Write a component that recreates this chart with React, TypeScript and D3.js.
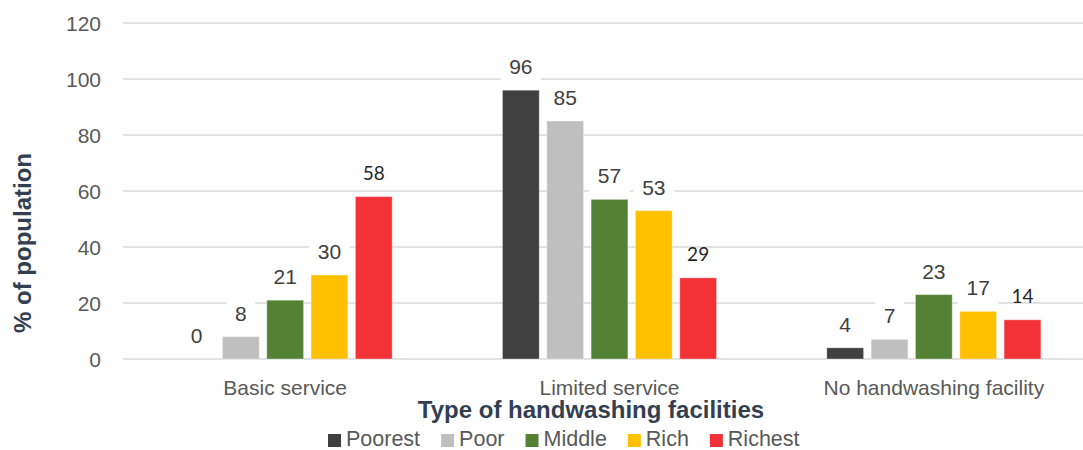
import * as d3 from 'd3';
import { useMemo } from 'react';

const categories = ['Basic service', 'Limited service', 'No handwashing facility'];
const series = ['Poorest', 'Poor', 'Middle', 'Rich', 'Richest'];
const colors = ['#404040', '#BFBFBF', '#548235', '#FFC000', '#F33238'];

// % of population per wealth quintile, one array per category
const basicService = [0, 8, 21, 30, 58];
const limitedService = [96, 85, 57, 53, 29];
const noFacility = [4, 7, 23, 17, 14];
const values = [basicService, limitedService, noFacility];

const yTicks = [0, 20, 40, 60, 80, 100, 120];

const W = 1083;
const H = 450;
const FONT = "'Liberation Sans', Arial, sans-serif";

// measure text with canvas so legend spacing follows real widths
const ctx = document.createElement('canvas').getContext('2d');
function textWidth(s: string, font: string) {
  if (!ctx) return s.length * 10;
  ctx.font = font;
  return ctx.measureText(s).width;
}

export default function App() {
  const x0 = useMemo(
    () => d3.scaleBand().domain(categories).range([123, 1096]).paddingInner(0.34).paddingOuter(0.17),
    []
  );
  const x1 = useMemo(
    () => d3.scaleBand().domain(series).range([0, x0.bandwidth()]).paddingInner(0.17),
    [x0]
  );
  const y = useMemo(() => d3.scaleLinear().domain([0, 120]).range([359, 23]), []);

  const legend = useMemo(() => {
    let cur = 328;
    return series.map((s, i) => {
      const item = { s, x: cur, color: colors[i] };
      cur += 13 + 5 + textWidth(s, `21.5px ${FONT}`) + 21;
      return item;
    });
  }, []);

  return (
    <svg
      width={W}
      height={H}
      style={{ position: 'absolute', left: 0, top: 0, background: '#fff' }}
      fontFamily={FONT}
    >
      {/* gridlines + ticks */}
      {yTicks.map((t) => (
        <g key={t}>
          <line x1={123} x2={W} y1={y(t)} y2={y(t)} stroke='#D9D9D9' strokeWidth={1.5} />
          <text x={101} y={y(t)} dy='0.36em' textAnchor='end' fontSize={21} fill='#595959'>
            {t}
          </text>
        </g>
      ))}

      {/* bars */}
      {categories.map((c, ci) => (
        <g key={c} transform={`translate(${x0(c)},0)`}>
          {series.map((s, si) => {
            const v = values[ci][si];
            return (
              <rect
                key={s}
                x={x1(s)}
                y={y(v)}
                width={x1.bandwidth()}
                height={y(0) - y(v)}
                fill={colors[si]}
                stroke='#fff'
                strokeOpacity={0.35}
                strokeWidth={1}
              />
            );
          })}
        </g>
      ))}

      {/* data labels */}
      {categories.map((c, ci) => (
        <g key={c} transform={`translate(${x0(c)},0)`}>
          {series.map((s, si) => {
            const v = values[ci][si];
            const cx = (x1(s) ?? 0) + x1.bandwidth() / 2;
            if (s === 'Richest') {
              return (
                <text
                  key={s}
                  x={cx}
                  y={y(v) - 17}
                  textAnchor='middle'
                  fontFamily="Lato, 'Open Sans', sans-serif"
                  fontSize={19}
                  fill='#262626'
                >
                  {v}
                </text>
              );
            }
            const label = String(v);
            const tw = textWidth(label, `21px ${FONT}`);
            const base = y(v) - 16;
            return (
              <g key={s}>
                <rect x={cx - tw / 2 - 8.5} y={base - 24} width={tw + 17} height={33} fill='#fff' />
                <text x={cx} y={base} textAnchor='middle' fontSize={21} fill='#404040'>
                  {label}
                </text>
              </g>
            );
          })}
        </g>
      ))}

      {/* category labels */}
      {categories.map((c) => (
        <text
          key={c}
          x={(x0(c) ?? 0) + x0.bandwidth() / 2}
          y={395}
          textAnchor='middle'
          fontSize={21}
          fill='#595959'
        >
          {c}
        </text>
      ))}

      {/* axis titles */}
      <text x={591} y={418} textAnchor='middle' fontSize={24} fontWeight='bold' fill='#333F50'>
        Type of handwashing facilities
      </text>
      <text
        transform='translate(31,243) rotate(-90)'
        textAnchor='middle'
        fontSize={24}
        fontWeight='bold'
        fill='#333F50'
      >
        % of population
      </text>

      {/* legend */}
      {legend.map((d) => (
        <g key={d.s}>
          <rect x={d.x} y={434} width={13} height={13} fill={d.color} />
          <text x={d.x + 18} y={446} fontSize={21.5} fill='#595959'>
            {d.s}
          </text>
        </g>
      ))}
    </svg>
  );
}
